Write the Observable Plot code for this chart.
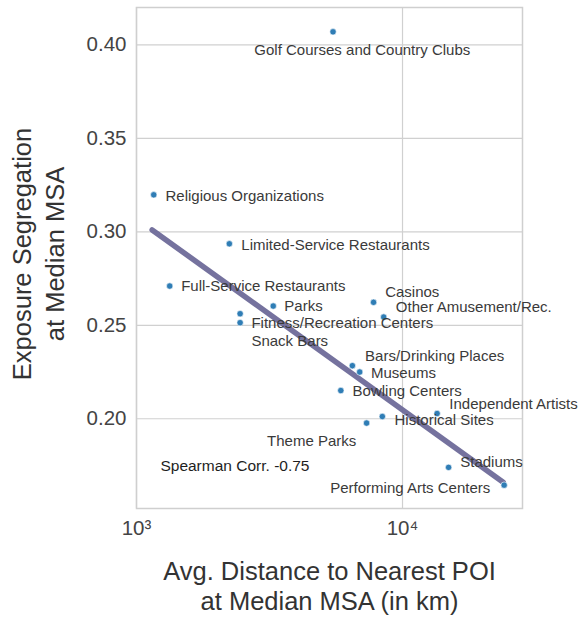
<!DOCTYPE html>
<html><head><meta charset="utf-8">
<script src="https://cdn.jsdelivr.net/npm/d3@7"></script>
<script src="https://cdn.jsdelivr.net/npm/@observablehq/plot@0.6"></script>
<style>body{margin:0;background:#fff;} svg{display:block;}</style>
</head><body><div id="chart"></div>
<script>
const categories = ["Golf Courses and Country Clubs","Religious Organizations","Limited-Service Restaurants","Full-Service Restaurants","Parks","Fitness/Recreation Centers","Snack Bars","Casinos","Other Amusement/Rec.","Bars/Drinking Places","Museums","Bowling Centers","Independent Artists","Historical Sites","Theme Parks","Stadiums","Performing Arts Centers"];
const distance = [5480,1161,2234,1333,3266,2452,2452,7783,8497,6479,6903,5862,13490,8397,7328,14900,24100];
const segregation = [0.407,0.3198,0.2936,0.271,0.2603,0.2562,0.2514,0.2623,0.2544,0.2284,0.225,0.2151,0.2028,0.2012,0.1977,0.174,0.1645];
const labelDist = [2773,1285,2477,1472,3594,2704,2704,8606,9440,7230,7610,6490,15000,9330,3097,16480,5350];
const labelSeg = [0.3973,0.3193,0.2930,0.2711,0.2604,0.2513,0.2413,0.2675,0.2595,0.2337,0.2242,0.2150,0.2079,0.1995,0.1882,0.1766,0.1629];
// trend line as drawn in the reference (endpoints)
const fitDist = [1145, 23900];
const fitSeg = [0.301, 0.166];
const yTicks = [0.20,0.25,0.30,0.35,0.40];
const xTicks = [1000,10000];
const xTickLabels = ["10³","10⁴"];
const corrText = "Spearman Corr. -0.75";
const corrPos = [1230, 0.1749];
const xTitle = "Avg. Distance to Nearest POI\nat Median MSA (in km)";
const yTitle = "Exposure Segregation\nat Median MSA";

const data = categories.map((c,i)=>({c, x:distance[i], y:segregation[i], lx:labelDist[i], ly:labelSeg[i]}));
const fit = fitDist.map((x,i)=>({x, y:fitSeg[i]}));

const font = "'Liberation Sans', Arial, sans-serif";
const chart = Plot.plot({
  width:584, height:619,
  marginLeft:136, marginRight:62, marginTop:7, marginBottom:111,
  style:{fontFamily:font, background:"#fff"},
  x:{type:"log", domain:[1000,28250]},
  y:{domain:[0.152,0.42]},
  marks:[
    Plot.gridX(xTicks,{stroke:"#d0d0d0", strokeOpacity:1, strokeWidth:1.2}),
    Plot.gridY(yTicks,{stroke:"#d0d0d0", strokeOpacity:1, strokeWidth:1.2}),
    Plot.frame({stroke:"#cfcfcf", strokeWidth:1.5}),
    Plot.axisY(yTicks,{tickFormat:d3.format(".2f"), tickSize:0, tickPadding:10, fontSize:20.5, fill:"#444", label:null}),
    Plot.axisX(xTicks,{tickFormat:(d)=>xTickLabels[xTicks.indexOf(d)], tickSize:0, tickPadding:12, fontSize:20.5, fill:"#444", label:null}),
    Plot.line(fit,{x:"x", y:"y", stroke:"#6e6a99", strokeWidth:5.5, strokeOpacity:0.95}),
    Plot.dot(data,{x:"x", y:"y", r:3.2, fill:"#2f7db5", stroke:"#fff", strokeWidth:0.6}),
    Plot.text(data,{x:"lx", y:"ly", text:"c", textAnchor:"start", fontSize:15, fill:"#3a3a3a"}),
    Plot.text([corrText],{x:()=>corrPos[0], y:()=>corrPos[1], text:d=>d, textAnchor:"start", fontSize:15.5, fill:"#1e1e1e"}),
    Plot.text([xTitle],{frameAnchor:"bottom", dy:51, lineAnchor:"top", textAnchor:"middle", text:d=>d, fontSize:25.5, fill:"#333", lineHeight:1.15}),
    Plot.text([yTitle],{frameAnchor:"left", dx:-100, dy:-4, rotate:-90, lineAnchor:"middle", textAnchor:"middle", text:d=>d, fontSize:25.5, fill:"#333", lineHeight:1.3})
  ]
});
document.getElementById("chart").append(chart);
</script></body></html>
